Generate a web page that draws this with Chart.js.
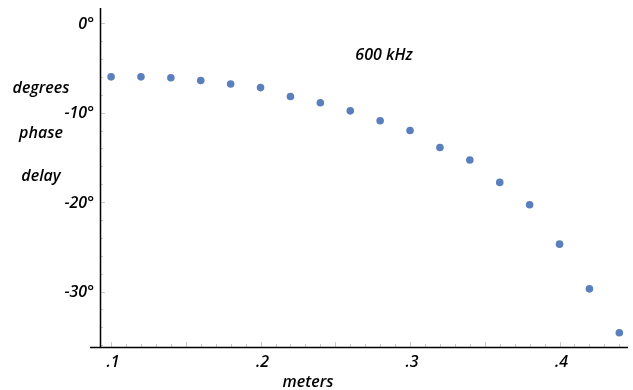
<!DOCTYPE html>
<html>
<head>
<meta charset="utf-8">
<script src="https://cdn.jsdelivr.net/npm/chart.js@4"></script>
<style>
  html, body { margin: 0; padding: 0; background: #ffffff; }
  #wrap { width: 633px; height: 390px; }
</style>
</head>
<body>
<div id="wrap"><canvas id="chart" width="633" height="390"></canvas></div>
<script>
// distance in meters
const distances = [0.10, 0.12, 0.14, 0.16, 0.18, 0.20, 0.22, 0.24, 0.26,
                   0.28, 0.30, 0.32, 0.34, 0.36, 0.38, 0.40, 0.42, 0.44];
// phase delay in degrees at 600 kHz
const phaseDelay = [-6.0, -6.0, -6.1, -6.4, -6.8, -7.2, -8.2, -8.9, -9.8,
                    -10.9, -12.0, -13.9, -15.3, -17.8, -20.3, -24.7, -29.7, -34.6];
const xTicks = [0.1, 0.2, 0.3, 0.4];
const xTickLabels = ['.1', '.2', '.3', '.4'];
const yTicks = [0, -10, -20, -30];
const yTickLabels = ['0°', '-10°', '-20°', '-30°'];
const yTitleLines = ['degrees', 'phase', 'delay'];
const xTitle = 'meters';
const seriesLabel = '600 kHz';

const FONT = 'italic 600 16px "Open Sans"';

const axesPlugin = {
  id: 'mathAxes',
  afterDraw(chart) {
    const { ctx, chartArea: a, scales: { x, y } } = chart;
    ctx.save();
    // minor ticks
    ctx.strokeStyle = '#c8c8c8';
    ctx.lineWidth = 1;
    ctx.beginPath();
    for (let v = 0.10; v <= 0.445; v += 0.01) {
      const px = Math.round(x.getPixelForValue(v)) + 0.5;
      const major = Math.abs((v * 20) - Math.round(v * 20)) < 1e-6;
      ctx.moveTo(px, a.bottom);
      ctx.lineTo(px, a.bottom - (major ? 5 : 3));
    }
    for (let v = 0; v >= -36; v -= 2) {
      const py = Math.round(y.getPixelForValue(v)) + 0.5;
      const major = v % 10 === 0;
      ctx.moveTo(a.left, py);
      ctx.lineTo(a.left + (major ? 5 : 3), py);
    }
    ctx.stroke();
    // axis lines
    ctx.strokeStyle = '#000';
    ctx.lineWidth = 1.5;
    ctx.beginPath();
    ctx.moveTo(a.left + 0.5, a.top);
    ctx.lineTo(a.left + 0.5, a.bottom);
    ctx.moveTo(a.left - 10, a.bottom + 0.5);
    ctx.lineTo(a.right, a.bottom + 0.5);
    ctx.stroke();
    // tick labels
    ctx.fillStyle = '#000';
    ctx.font = FONT;
    ctx.textAlign = 'center';
    ctx.textBaseline = 'middle';
    xTicks.forEach((v, i) => {
      ctx.fillText(xTickLabels[i], x.getPixelForValue(v) + 2, a.bottom + 15);
    });
    ctx.textAlign = 'right';
    yTicks.forEach((v, i) => {
      ctx.fillText(yTickLabels[i], a.left - 6, y.getPixelForValue(v) + 1);
    });
    // axis titles
    ctx.textAlign = 'center';
    const ty = [88, 133, 176];
    yTitleLines.forEach((t, i) => ctx.fillText(t, 41, ty[i]));
    ctx.fillText(xTitle, 308, 382);
    ctx.fillText(seriesLabel, 384, 55);
    ctx.restore();
  }
};

new Chart(document.getElementById('chart'), {
  type: 'scatter',
  data: {
    datasets: [{
      label: seriesLabel,
      data: distances.map((d, i) => ({ x: d, y: phaseDelay[i] })),
      backgroundColor: '#5a7fbd',
      borderColor: '#5a7fbd',
      pointRadius: 3.8,
      borderWidth: 0
    }]
  },
  options: {
    responsive: false,
    animation: false,
    layout: { padding: { left: 100, top: 8, right: 5, bottom: 43 } },
    plugins: { legend: { display: false }, tooltip: { enabled: false } },
    scales: {
      x: { type: 'linear', min: 0.0926, max: 0.4458, display: false },
      y: { type: 'linear', min: -36.2, max: 1.7, display: false }
    }
  },
  plugins: [axesPlugin]
});
</script>
</body>
</html>
